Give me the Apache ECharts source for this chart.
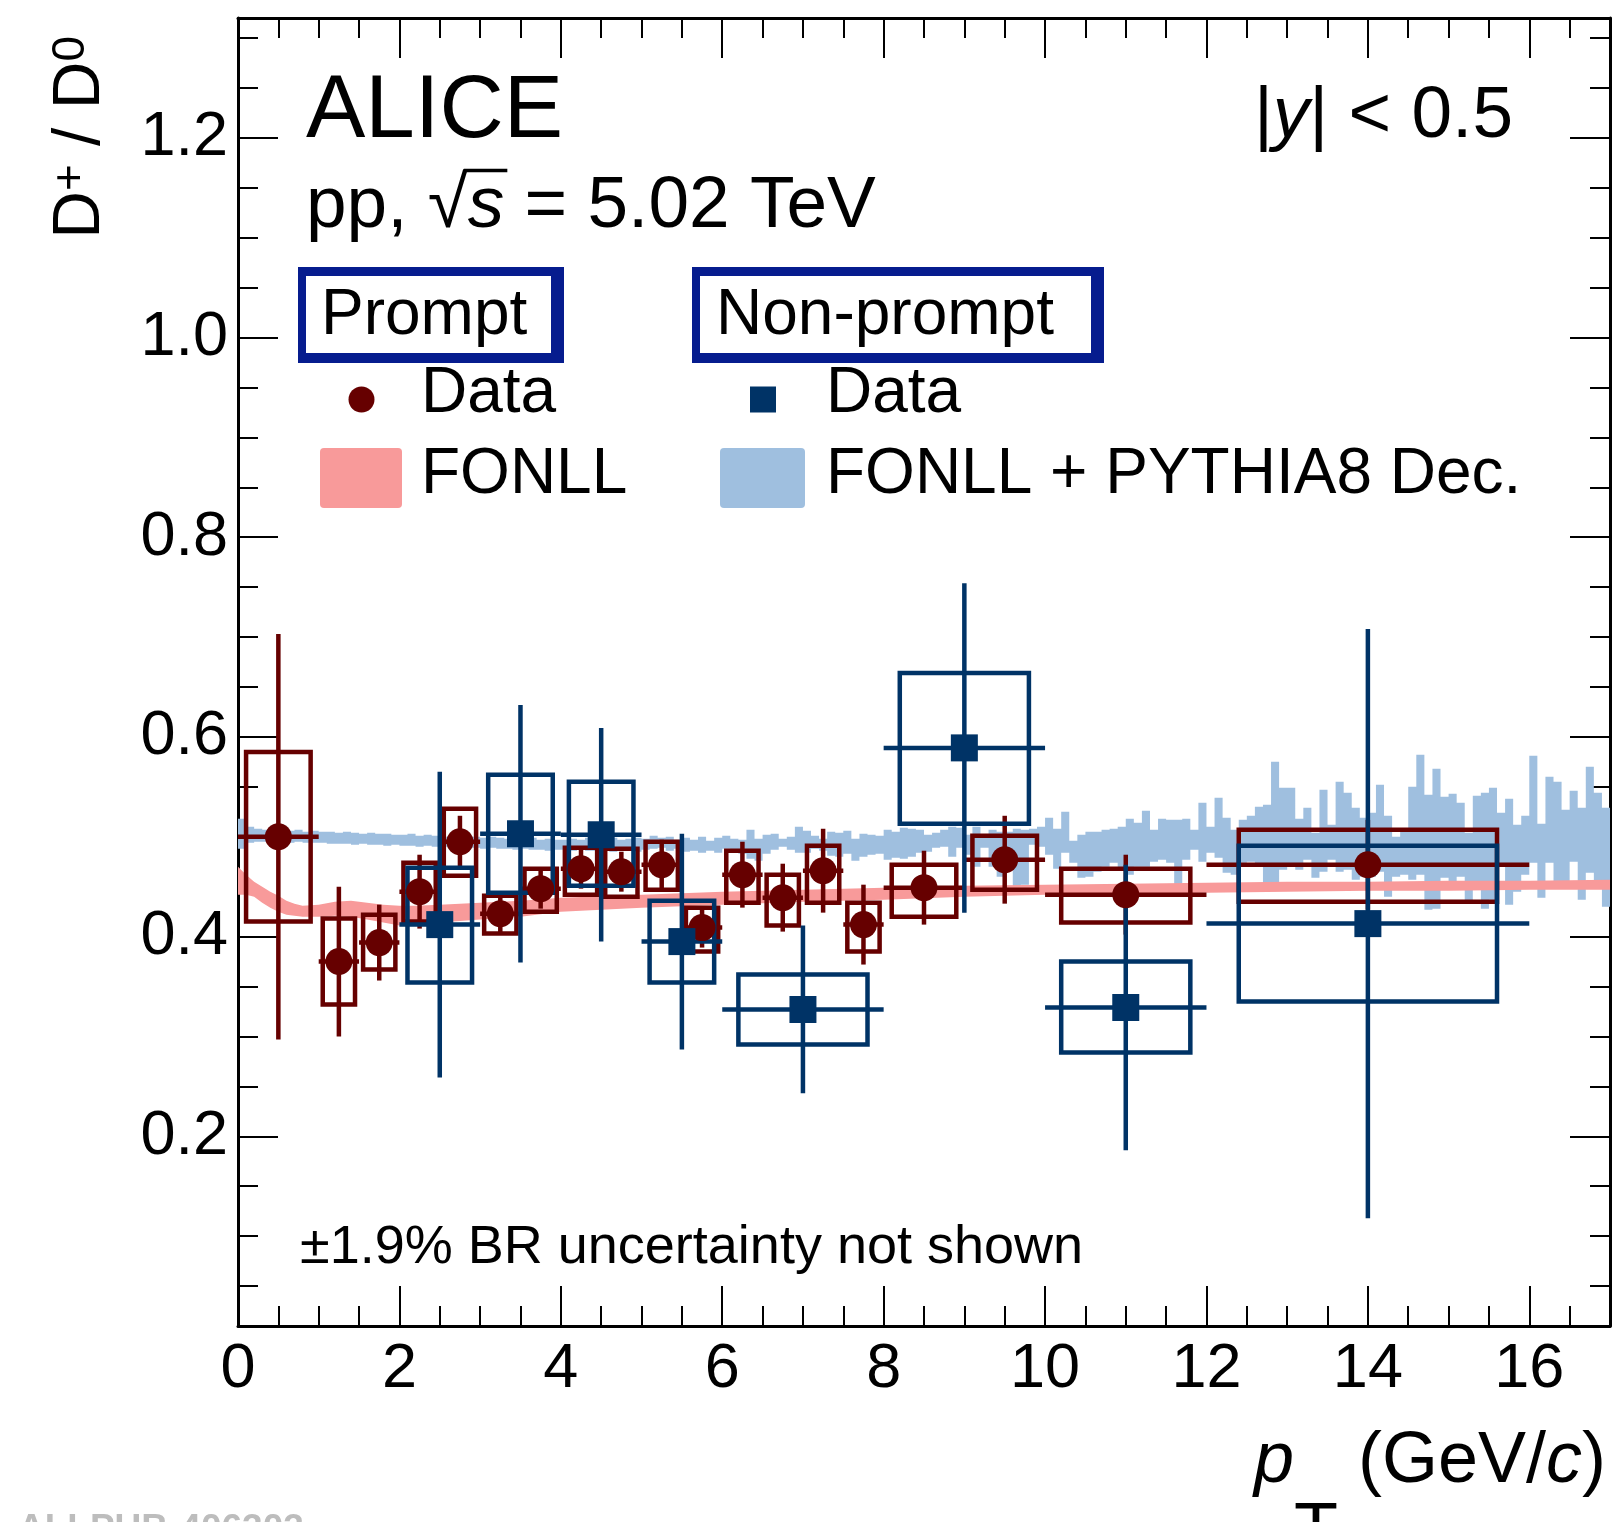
<!DOCTYPE html>
<html><head><meta charset="utf-8">
<script src="https://cdn.jsdelivr.net/npm/echarts@6/dist/echarts.min.js"></script>
<style>html,body{margin:0;padding:0;background:#fff}#c{width:1614px;height:1522px}</style>
</head><body><div id="c"></div><script>
// ---------------- DATA ----------------
const xTickValues = [0,2,4,6,8,10,12,14,16];
const yTickValues = [0.2,0.4,0.6,0.8,1.0,1.2];
const yMinorTickValues = [0.05,0.1,0.15,0.25,0.3,0.35,0.45,0.5,0.55,0.65,0.7,0.75,0.85,0.9,0.95,1.05,1.1,1.15,1.25,1.3];

// Prompt D+/D0
const promptX    = [0.5,1.25,1.75,2.25,2.75,3.25,3.75,4.25,4.75,5.25,5.75,6.25,6.75,7.25,7.75,8.5,9.5,11,14];
const promptXErr = [0.5,0.25,0.25,0.25,0.25,0.25,0.25,0.25,0.25,0.25,0.25,0.25,0.25,0.25,0.25,0.5,0.5,1,2];
const promptY    = [0.500,0.375,0.394,0.445,0.495,0.423,0.448,0.468,0.465,0.472,0.409,0.462,0.439,0.466,0.412,0.449,0.477,0.442,0.472];
const promptStat = [0.203,0.075,0.038,0.037,0.026,0.021,0.020,0.020,0.020,0.025,0.020,0.033,0.034,0.042,0.040,0.037,0.044,0.040,0.045];
const promptSysLo= [0.415,0.332,0.367,0.415,0.461,0.403,0.425,0.442,0.440,0.447,0.385,0.434,0.411,0.434,0.385,0.420,0.447,0.414,0.435];
const promptSysHi= [0.585,0.418,0.422,0.474,0.528,0.441,0.468,0.489,0.488,0.495,0.429,0.486,0.462,0.491,0.434,0.472,0.501,0.468,0.507];

// Non-prompt D+/D0
const npX    = [2.5,3.5,4.5,5.5,7,9,11,14];
const npXErr = [0.5,0.5,0.5,0.5,1,1,1,2];
const npY    = [0.412,0.503,0.502,0.395,0.327,0.589,0.329,0.413];
const npStat = [0.153,0.129,0.107,0.108,0.084,0.165,0.143,0.295];
const npSysLo= [0.354,0.444,0.451,0.354,0.292,0.513,0.284,0.335];
const npSysHi= [0.469,0.562,0.555,0.436,0.362,0.664,0.375,0.491];

// FONLL prompt band
const fonllX  = [0,0.1,0.2,0.3,0.4,0.5,0.6,0.7,0.8,1.0,1.2,1.4,1.6,1.8,2.0,2.2,2.5,3.0,3.5,4.0,5,6,7,8,9,10,11,12,13,14,15,16,17];
const fonllHi = [0.470,0.462,0.455,0.450,0.445,0.441,0.436,0.433,0.431,0.432,0.435,0.436,0.434,0.432,0.431,0.431,0.432,0.434,0.436,0.439,0.442,0.445,0.447,0.449,0.451,0.452,0.453,0.454,0.455,0.455,0.456,0.456,0.457];
const fonllLo = [0.442,0.442,0.440,0.434,0.429,0.425,0.422,0.421,0.420,0.420,0.421,0.420,0.417,0.414,0.411,0.411,0.414,0.417,0.420,0.425,0.429,0.432,0.435,0.437,0.440,0.442,0.443,0.444,0.445,0.446,0.446,0.447,0.447];

// FONLL + PYTHIA8 decays (non-prompt) band, bins of 0.1 GeV/c from 0 to 17
const pythiaBinStart = 0, pythiaBinWidth = 0.1;
const pythiaHi = [
0.518,0.510,0.508,0.507,0.507,0.506,0.506,0.507,0.505,0.506,
0.505,0.505,0.504,0.505,0.504,0.503,0.504,0.503,0.503,0.502,
0.502,0.503,0.501,0.502,0.501,0.500,0.501,0.500,0.501,0.500,
0.499,0.500,0.499,0.498,0.500,0.498,0.499,0.497,0.498,0.497,
0.497,0.498,0.497,0.499,0.497,0.498,0.499,0.497,0.498,0.499,
0.498,0.501,0.499,0.500,0.497,0.499,0.497,0.500,0.496,0.499,
0.501,0.498,0.497,0.507,0.498,0.502,0.503,0.498,0.500,0.510,
0.506,0.501,0.498,0.505,0.504,0.506,0.498,0.503,0.502,0.501,
0.507,0.505,0.509,0.508,
0.507,0.502,0.504,0.507,0.510,0.509,0.502,0.510,0.502,0.507,
0.505,0.505,0.508,0.507,0.508,0.510,0.519,0.508,0.525,0.496,
0.502,0.505,0.505,0.507,0.508,0.510,0.518,0.514,0.526,0.507,
0.518,0.517,0.517,0.518,0.507,0.534,0.510,0.539,0.519,0.507,
0.517,0.521,
0.530,0.532,0.575,0.549,0.549,0.518,0.529,0.504,0.547,0.512,
0.555,0.544,0.529,0.519,0.524,0.552,0.521,0.500,0.505,0.550,
0.582,0.542,0.568,0.540,0.543,0.534,0.504,0.541,0.544,0.549,
0.524,0.538,0.512,0.521,0.581,0.513,0.560,0.555,0.527,0.546,
0.529,0.570,0.544,0.529];
const pythiaLo = [
0.488,0.494,0.495,0.495,0.494,0.495,0.494,0.495,0.494,0.494,
0.494,0.493,0.493,0.493,0.492,0.493,0.492,0.492,0.491,0.492,
0.491,0.491,0.490,0.491,0.490,0.490,0.489,0.490,0.489,0.489,
0.488,0.489,0.488,0.488,0.487,0.488,0.487,0.487,0.486,0.487,
0.487,0.486,0.487,0.486,0.486,0.487,0.485,0.486,0.486,0.485,
0.487,0.488,0.489,0.486,0.488,0.485,0.486,0.484,0.486,0.484,
0.488,0.486,0.483,0.478,0.476,0.483,0.487,0.490,0.487,0.484,
0.484,0.488,0.486,0.481,0.480,0.483,0.476,0.480,0.482,0.483,
0.477,0.479,0.478,0.480,
0.484,0.485,0.489,0.490,0.480,0.489,0.482,0.470,0.489,0.470,
0.460,0.468,0.450,0.452,0.492,0.490,0.482,0.468,0.484,0.474,
0.459,0.460,0.465,0.470,0.474,0.467,0.462,0.470,0.470,0.475,
0.477,0.474,0.452,0.477,0.487,0.475,0.484,0.479,0.464,0.462,
0.474,0.475,
0.470,0.450,0.447,0.467,0.470,0.467,0.477,0.459,0.465,0.477,
0.465,0.467,0.457,0.460,0.460,0.465,0.440,0.460,0.462,0.457,
0.462,0.427,0.428,0.459,0.449,0.460,0.435,0.454,0.428,0.437,
0.470,0.432,0.445,0.462,0.474,0.439,0.474,0.449,0.454,0.475,
0.437,0.464,0.450,0.430];

// ---------------- STYLE ----------------
const FONT = '"Liberation Sans", Arial, Helvetica, sans-serif';
const C_PROMPT = '#660000', C_NP = '#003366', C_FONLL = '#f89a9a', C_PYTHIA = '#9fbfdf', C_HEAD = '#061c8e';
const LW = 4.5, BOX_FRAC = 0.8, MARKER = 27;
const X_MIN = 0, X_MAX = 17, Y_MIN = 0.01, Y_MAX = 1.32;

const chart = echarts.init(document.getElementById('c'), null, {renderer:'canvas', width:1614, height:1522});

function xAxisDef(pos, showLabel) {
  return {
    type:'value', min:X_MIN, max:X_MAX, interval:2, position:pos,
    axisLine:{show:true, onZero:false, lineStyle:{color:'#000', width:3}},
    axisTick:{show:true, inside:true, length:40, lineStyle:{color:'#000', width:2}},
    minorTick:{show:true, splitNumber:4, length:20, lineStyle:{color:'#000', width:2}},
    axisLabel:{show:showLabel, customValues:xTickValues, fontSize:63, color:'#000', fontFamily:FONT, margin:12},
    splitLine:{show:false}, minorSplitLine:{show:false}
  };
}
function yAxisDef(pos, values, len, showLabel, showLine) {
  return {
    type:'value', min:Y_MIN, max:Y_MAX, position:pos, offset:0,
    axisLine:{show:showLine, onZero:false, lineStyle:{color:'#000', width:3}},
    axisTick:{show:true, inside:true, length:len, customValues:values, lineStyle:{color:'#000', width:2}},
    minorTick:{show:false},
    axisLabel:{show:showLabel, customValues:values, fontSize:63, color:'#000', fontFamily:FONT, margin:10,
               formatter: v => Number(v).toFixed(1)},
    splitLine:{show:false}
  };
}

function errSeries(xs, xe, ys, st, slo, shi, color, z) {
  return {
    type:'custom', z, clip:true, silent:true, xAxisIndex:0, yAxisIndex:0,
    data: xs.map((x,i)=>[x, ys[i], xe[i], st[i], slo[i], shi[i]]),
    encode:{x:0, y:1},
    renderItem(params, api) {
      const x=api.value(0), y=api.value(1), e=api.value(2), s=api.value(3), lo=api.value(4), hi=api.value(5);
      const l=api.coord([x-e,y]), r=api.coord([x+e,y]);
      const t=api.coord([x,y+s]), b=api.coord([x,y-s]);
      const b1=api.coord([x-BOX_FRAC*e,hi]), b2=api.coord([x+BOX_FRAC*e,lo]);
      const ls={stroke:color, lineWidth:LW, fill:'none'};
      return {type:'group', children:[
        {type:'rect', shape:{x:b1[0], y:b1[1], width:b2[0]-b1[0], height:b2[1]-b1[1]}, style:{stroke:color, lineWidth:LW, fill:'none'}},
        {type:'line', shape:{x1:l[0], y1:l[1], x2:r[0], y2:r[1]}, style:ls},
        {type:'line', shape:{x1:t[0], y1:t[1], x2:b[0], y2:b[1]}, style:ls}
      ]};
    }
  };
}

const fonllSeries = {
  type:'custom', z:2, clip:true, silent:true,
  data: fonllX.map((x,i)=>[x, fonllLo[i], fonllHi[i]]),
  encode:{x:0, y:1},
  renderItem(params, api) {
    if (params.dataIndex !== 0) return null;
    const pts = [];
    for (let i=0;i<fonllX.length;i++) pts.push(api.coord([fonllX[i], fonllHi[i]]));
    for (let i=fonllX.length-1;i>=0;i--) pts.push(api.coord([fonllX[i], fonllLo[i]]));
    return {type:'polygon', shape:{points:pts}, style:{fill:C_FONLL, stroke:'none'}};
  }
};

const pythiaSeries = {
  type:'custom', z:1, clip:true, silent:true,
  data: pythiaHi.map((h,i)=>[pythiaBinStart + i*pythiaBinWidth, pythiaLo[i], h]),
  encode:{x:0, y:1},
  renderItem(params, api) {
    if (params.dataIndex !== 0) return null;
    const n = pythiaHi.length, pts = [];
    for (let i=0;i<n;i++) {
      const x0 = pythiaBinStart + i*pythiaBinWidth, x1 = x0 + pythiaBinWidth;
      pts.push(api.coord([x0, pythiaHi[i]])); pts.push(api.coord([x1, pythiaHi[i]]));
    }
    for (let i=n-1;i>=0;i--) {
      const x0 = pythiaBinStart + i*pythiaBinWidth, x1 = x0 + pythiaBinWidth;
      pts.push(api.coord([x1, pythiaLo[i]])); pts.push(api.coord([x0, pythiaLo[i]]));
    }
    return {type:'polygon', shape:{points:pts}, style:{fill:C_PYTHIA, stroke:'none'}};
  }
};

// ---------------- TEXT / LEGEND GRAPHICS ----------------
const MID = 0.30; // baseline offset below the 'middle' line, in font sizes
function txt(text, x, baseline, size, opt) {
  opt = opt || {};
  return {type:'text', silent:true, z:20, style:{
    text, x, y: baseline - MID*size,
    font: (opt.italic?'italic ':'') + (opt.bold?'bold ':'') + size + 'px ' + FONT,
    fill: opt.fill || '#000', textAlign: opt.align || 'left', textVerticalAlign:'middle',
    rich: opt.rich
  }};
}
const mctx = document.createElement('canvas').getContext('2d');
function measure(t, font){ mctx.font = font; return mctx.measureText(t).width; }

const ppLeft = 306, ppBase = 229, ppSize = 73;
const wSqrt = measure('pp, \u221A', ppSize + 'px ' + FONT);
const wS = measure('s', 'italic ' + ppSize + 'px ' + FONT);

function headBox(x0, y0, x1, y1) {
  const s = {fill:C_HEAD};
  return [
    {type:'rect', silent:true, z:20, shape:{x:x0, y:y0, width:x1-x0, height:9}, style:s},
    {type:'rect', silent:true, z:20, shape:{x:x0, y:y1-10, width:x1-x0, height:10}, style:s},
    {type:'rect', silent:true, z:20, shape:{x:x0, y:y0, width:8, height:y1-y0}, style:s},
    {type:'rect', silent:true, z:20, shape:{x:x1-13, y:y0, width:13, height:y1-y0}, style:s}
  ];
}

const TT = 72; // x-axis title size
const YT = 66; // y-axis title size
const graphics = [
  txt('ALICE', 306, 139, 89),
  txt('{n|pp, \u221A}{i|s}{n| = 5.02 TeV}', ppLeft, ppBase, ppSize, {rich:{
      n:{fontSize:ppSize, fontFamily:FONT}, i:{fontSize:ppSize, fontFamily:FONT, fontStyle:'italic'}}}),
  {type:'line', silent:true, z:20, shape:{x1:ppLeft + wSqrt - 4, y1:ppBase - 0.80*ppSize, x2:ppLeft + wSqrt + wS + 3, y2:ppBase - 0.80*ppSize}, style:{stroke:'#000', lineWidth:3.5}},
  txt('{n||}{i|y}{n|| < 0.5}', 1513, 139, 73, {align:'right', rich:{
      n:{fontSize:73, fontFamily:FONT}, i:{fontSize:73, fontFamily:FONT, fontStyle:'italic'}}}),
  ...headBox(298, 267, 564, 363),
  ...headBox(692, 267, 1104, 363),
  txt('Prompt', 321, 336, 64),
  txt('Non-prompt', 716, 336, 64),
  {type:'circle', silent:true, z:20, shape:{cx:361.5, cy:399.5, r:13}, style:{fill:C_PROMPT}},
  {type:'rect', silent:true, z:20, shape:{x:750, y:386.5, width:26, height:26}, style:{fill:C_NP}},
  txt('Data', 421, 414, 64),
  txt('Data', 826, 414, 64),
  {type:'rect', silent:true, z:20, shape:{x:320, y:448, width:82, height:60, r:4}, style:{fill:C_FONLL}},
  {type:'rect', silent:true, z:20, shape:{x:720, y:448, width:85, height:60, r:4}, style:{fill:C_PYTHIA}},
  txt('FONLL', 421, 495, 64),
  txt('FONLL + PYTHIA8 Dec.', 826, 495, 64),
  txt('\u00B11.9% BR uncertainty not shown', 300, 1264, 54),
  // x-axis title
  {type:'text', silent:true, z:20, x:1606, y:1426, style:{
    text:'{p|p}{s|T}{n| (GeV/}{c|c}{n|)}', textAlign:'right', textVerticalAlign:'top',
    font: TT + 'px ' + FONT, fill:'#000',
    rich:{
      p:{fontSize:TT, fontFamily:FONT, fontStyle:'italic', lineHeight:TT, verticalAlign:'top'},
      s:{fontSize:TT, fontFamily:FONT, lineHeight:TT, verticalAlign:'top', padding:[71,0,0,0]},
      n:{fontSize:TT, fontFamily:FONT, lineHeight:TT, verticalAlign:'top'},
      c:{fontSize:TT, fontFamily:FONT, fontStyle:'italic', lineHeight:TT, verticalAlign:'top'}
    }}},
  // y-axis title
  {type:'text', silent:true, z:20, x:114, y:36, rotation:Math.PI/2, style:{
    text:'{m|D}{u|+}{m| / D}{u|0}', textAlign:'right', textVerticalAlign:'bottom',
    font: YT + 'px ' + FONT, fill:'#000',
    rich:{
      m:{fontSize:YT, fontFamily:FONT, lineHeight:YT, verticalAlign:'bottom'},
      u:{fontSize:46, fontFamily:FONT, lineHeight:46, verticalAlign:'top', padding:[0,0,38,0]}
    }}},
  // watermark (cut at the page bottom)
  txt('ALI-PUB-406303', 18, 1541, 37, {bold:true, fill:'#bdbdbd'})
];

chart.setOption({
  animation:false,
  backgroundColor:'#fff',
  grid:{left:238, top:18, width:1372, height:1308, containLabel:false, outerBoundsMode:'none'},
  xAxis:[ xAxisDef('bottom', true), xAxisDef('top', false) ],
  yAxis:[
    yAxisDef('left', yTickValues, 40, true, true),
    yAxisDef('left', yMinorTickValues, 20, false, false),
    yAxisDef('right', yTickValues, 40, false, true),
    yAxisDef('right', yMinorTickValues, 20, false, false)
  ],
  series:[
    pythiaSeries,
    fonllSeries,
    errSeries(promptX, promptXErr, promptY, promptStat, promptSysLo, promptSysHi, C_PROMPT, 3),
    errSeries(npX, npXErr, npY, npStat, npSysLo, npSysHi, C_NP, 4),
    {type:'scatter', z:5, silent:true, symbol:'circle', symbolSize:MARKER, itemStyle:{color:C_PROMPT, opacity:1},
     data: promptX.map((x,i)=>[x, promptY[i]])},
    {type:'scatter', z:6, silent:true, symbol:'rect', symbolSize:MARKER, itemStyle:{color:C_NP, opacity:1},
     data: npX.map((x,i)=>[x, npY[i]])}
  ],
  graphic: graphics
});
</script></body></html>
